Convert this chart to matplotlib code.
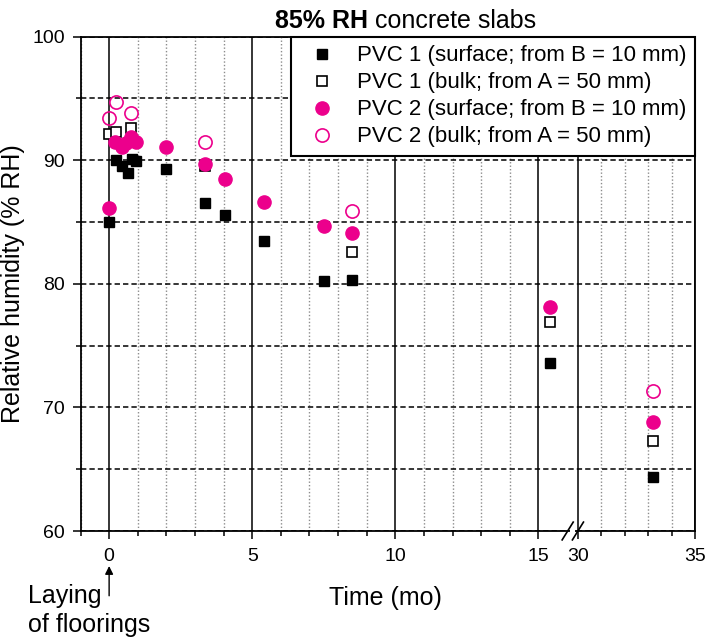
import numpy as np
import matplotlib
matplotlib.use("Agg")
import matplotlib.pyplot as plt
from matplotlib.patches import Rectangle

plt.rcParams['font.family'] = ['Liberation Sans', 'DejaVu Sans']

MAGENTA = '#EC008C'

# months after laying of floorings, relative humidity (% RH)
t_pvc1_surf = [0, 0.25, 0.45, 0.65, 0.8, 0.95, 2.0, 3.35, 4.05, 5.4, 7.5, 8.5, 15.4, 33.2]
rh_pvc1_surf = [85.0, 90.0, 89.5, 89.0, 90.1, 89.9, 89.3, 86.5, 85.6, 83.5, 80.2, 80.3, 73.6, 64.4]

t_pvc1_bulk = [0, 0.25, 0.75, 3.35, 8.5, 15.4, 33.2]
rh_pvc1_bulk = [92.1, 92.3, 92.6, 89.5, 82.6, 76.9, 67.3]

t_pvc2_surf = [0, 0.2, 0.45, 0.6, 0.75, 0.95, 2.0, 3.35, 4.05, 5.4, 7.5, 8.5, 15.4, 33.2]
rh_pvc2_surf = [86.1, 91.5, 91.1, 91.4, 91.9, 91.5, 91.1, 89.7, 88.5, 86.6, 84.7, 84.1, 78.1, 68.8]

t_pvc2_bulk = [0, 0.25, 0.75, 3.35, 8.5, 33.2]
rh_pvc2_bulk = [93.4, 94.7, 93.8, 91.5, 85.9, 71.3]

labels = ['PVC 1 (surface; from B = 10 mm)', 'PVC 1 (bulk; from A = 50 mm)',
          'PVC 2 (surface; from B = 10 mm)', 'PVC 2 (bulk; from A = 50 mm)']

major_x = [0, 5, 10, 15, 30, 35]
minor_x = [-1, 1, 2, 3, 4, 6, 7, 8, 9, 11, 12, 13, 14, 31, 32, 33, 34]
major_y = [60, 70, 80, 90, 100]
minor_y = [65, 75, 85, 95]

# broken time axis: linear up to EDGE, 16.2 -> 30 squeezed, 30-35 a bit compressed
GAP = 1.378
EDGE = 16.2
SQUEEZE = 0.818


def fwd(t):
    t = np.asarray(t, dtype=float)
    return np.where(t <= EDGE, t,
                    np.where(t <= 30, EDGE + (t - EDGE) * (15 + GAP - EDGE) / (30 - EDGE),
                             15 + GAP + (t - 30) * SQUEEZE))


def inv(u):
    u = np.asarray(u, dtype=float)
    return np.where(u <= EDGE, u,
                    np.where(u <= 15 + GAP, EDGE + (u - EDGE) * (30 - EDGE) / (15 + GAP - EDGE),
                             30 + (u - 15 - GAP) / SQUEEZE))


fig = plt.figure(figsize=(7.09, 6.40), dpi=100)
ax = fig.add_axes([80.5 / 709, 1 - 531 / 640, (695 - 80.5) / 709, (531 - 36.6) / 640])

ax.set_xscale('function', functions=(fwd, inv))
ax.set_xlim(-1, 35)
ax.set_ylim(60, 100)

ax.set_xticks(major_x, labels=[str(v) for v in major_x])
ax.set_xticks(minor_x, minor=True)
ax.set_yticks(major_y, labels=[str(v) for v in major_y])
ax.set_yticks(minor_y, minor=True)

ax.tick_params(which='major', direction='out', length=6, width=1.1, labelsize=14, pad=5)
ax.tick_params(which='minor', direction='out', length=3.5, width=1.1)
ax.tick_params(axis='x', which='major', pad=6)

ax.grid(True, axis='x', which='major', color='black', linestyle='-', linewidth=1.1)
ax.grid(True, axis='x', which='minor', color='#8c8c8c', linestyle=(0, (1, 1.5)), linewidth=1.0)
ax.grid(True, axis='y', which='both', color='black', linestyle=(0, (3.5, 2)), linewidth=1.1)
ax.set_axisbelow(True)

for s in ax.spines.values():
    s.set_linewidth(1.3)

ax.plot(t_pvc1_surf, rh_pvc1_surf, 's', ms=7.8, color='black', label=labels[0])
ax.plot(t_pvc1_bulk, rh_pvc1_bulk, 's', ms=7.8, mfc='white', mec='black', mew=1.2, label=labels[1])
ax.plot(t_pvc2_surf, rh_pvc2_surf, 'o', ms=9.5, color=MAGENTA, label=labels[2])
ax.plot(t_pvc2_bulk, rh_pvc2_bulk, 'o', ms=9.5, mfc='none', mec=MAGENTA, mew=1.2, label=labels[3])

leg = ax.legend(loc='upper right', borderaxespad=0, fontsize=16, handlelength=2.0,
                handletextpad=0.55, labelspacing=0.27, borderpad=0.4, fancybox=False,
                framealpha=1, edgecolor='black', numpoints=1)
leg.get_frame().set_linewidth(1.5)

ax.set_ylabel('Relative humidity (% RH)', fontsize=18)
ax.yaxis.set_label_coords(-0.0903, 0.5)
ax.set_xlabel('Time (mo)', fontsize=18)
ax.xaxis.set_label_coords(0.496, -0.111)

# axis break marks
u0, u1 = fwd(-1), fwd(35)
breaks = (16.02, 30.0)
for tb in breaks:
    xa = float((fwd(tb) - u0) / (u1 - u0))
    ax.plot([xa - 0.009, xa + 0.009], [-0.018, 0.018], color='black', lw=1.2,
            transform=ax.transAxes, clip_on=False, zorder=6)
xa1 = float((fwd(breaks[0]) - u0) / (u1 - u0))
xa2 = float((fwd(breaks[1]) - u0) / (u1 - u0))
ax.add_patch(Rectangle((xa1 + 0.004, -0.006), xa2 - xa1 - 0.008, 0.012, facecolor='white',
                       edgecolor='none', transform=ax.transAxes, clip_on=False, zorder=5))

# laying of floorings marker
ax.annotate('', xy=(0, -0.0708), xycoords=('data', 'axes fraction'),
            xytext=(0, -0.131), textcoords=('data', 'axes fraction'),
            arrowprops=dict(arrowstyle='-|>', color='black', lw=1, mutation_scale=12,
                            shrinkA=0, shrinkB=0))
fig.text(27.5 / 709, 1 - 603.3 / 640, 'Laying', fontsize=18, va='baseline')
fig.text(27.5 / 709, 1 - 631.7 / 640, 'of floorings', fontsize=18, va='baseline')

# title with bold part
t1 = fig.text(275 / 709, 1 - 28 / 640, '85% RH', fontsize=18, fontweight='bold', va='baseline')
fig.draw_without_rendering()
ax.annotate(' concrete slabs', xy=(1, 0), xycoords=t1, fontsize=18, va='bottom', ha='left',
            annotation_clip=False)

plt.savefig('out.png', dpi=100)
